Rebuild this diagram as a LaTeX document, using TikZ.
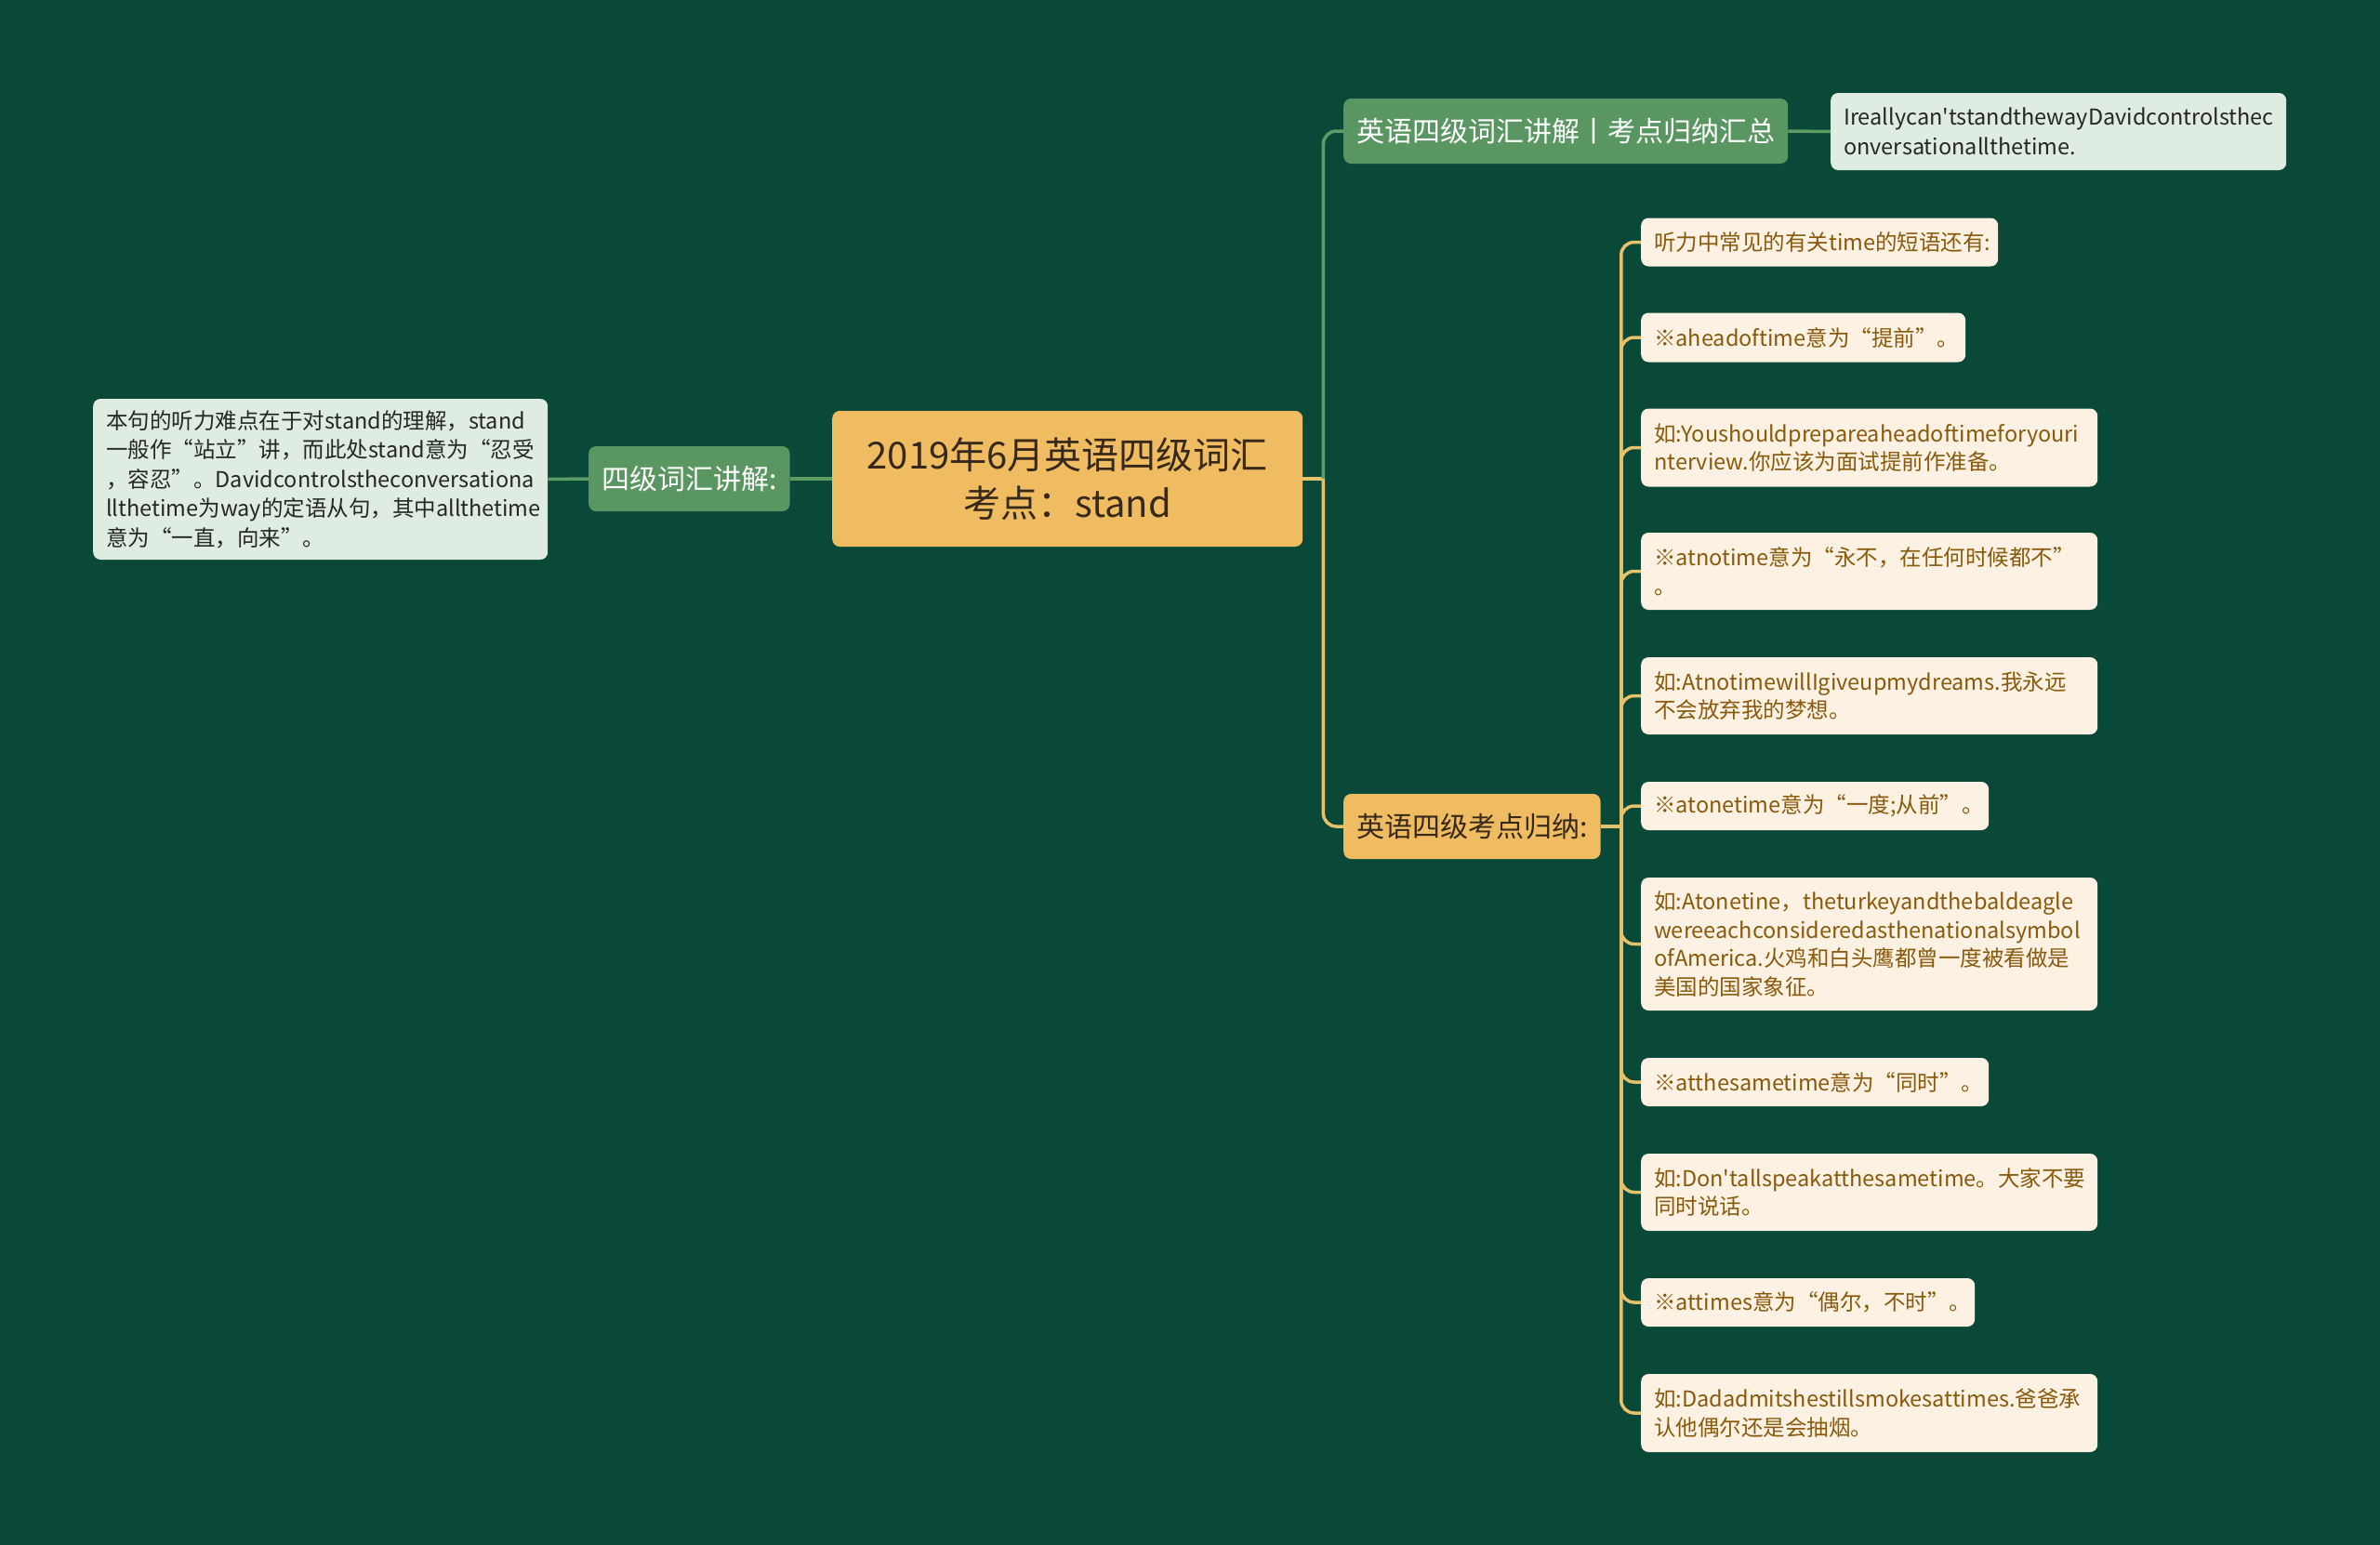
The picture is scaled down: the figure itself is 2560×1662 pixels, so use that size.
\documentclass[tikz,border=0pt]{standalone}
\usepackage{fontspec}
\setmainfont{Noto Sans CJK SC}[Ligatures=TeXOff]
\usetikzlibrary{positioning}

\definecolor{bgdark}{HTML}{0A4837}
\definecolor{rootfill}{HTML}{F0BC62}
\definecolor{rootink}{HTML}{36281A}
\definecolor{leaffill}{HTML}{5A9661}
\definecolor{notefill}{HTML}{DEECE1}
\definecolor{noteink}{HTML}{262626}
\definecolor{creamfill}{HTML}{FCF1E2}
\definecolor{creamink}{HTML}{8A5A0C}
\definecolor{greenline}{HTML}{5E9C66}
\definecolor{goldline}{HTML}{E6C36A}

\begin{document}
\begin{tikzpicture}[x=1pt,y=-1pt,
    box/.style={rounded corners=8pt, inner xsep=14pt, inner ysep=0pt, anchor=west},
    topic/.style={box, fill=rootfill, text=rootink, minimum height=70pt,
        font=\fontsize{30}{36}\selectfont},
    subtopic/.style={box, fill=leaffill, text=white, minimum height=70pt,
        font=\fontsize{30}{36}\selectfont},
    note/.style={box, fill=notefill, text=noteink, align=left,
        font=\fontsize{23.5}{31.5}\selectfont},
    tip/.style={box, fill=creamfill, text=creamink, align=left,
        font=\fontsize{23.5}{30.5}\selectfont},
    greenlink/.style={draw=greenline, line width=3.5pt},
    goldlink/.style={draw=goldline, line width=3.5pt}]

    \useasboundingbox (0,0) rectangle (2560,1662);
    \fill[bgdark] (0,0) rectangle (2560,1662);

    % centre and left side
    \node[topic, minimum width=506pt, minimum height=146pt, align=center,
        font=\fontsize{40}{52}\selectfont] (root) at (895,515)
        {2019年6月英语四级词汇\\考点：stand};
    \node[subtopic] (explain) at (633,515) {四级词汇讲解:};
    \node[note, text width=461pt, minimum height=173pt] (explainnote) at (100,515.5)
        {本句的听力难点在于对stand的理解，stand\\一般作“站立”讲，而此处stand意为“忍受\\，容忍”。Davidcontrolstheconversationa\\llthetime为way的定语从句，其中allthetime\\意为“一直，向来”。};

    % right side
    \node[subtopic] (summary) at (1445,141) {英语四级词汇讲解丨考点归纳汇总};
    \node[note, text width=462pt, minimum height=83pt] (summarynote) at (1969,141.5)
        {Ireallycan'tstandthewayDavidcontrolsthec\\onversationallthetime.};
    \node[topic] (points) at (1445,889) {英语四级考点归纳:};

    \node[tip, text width=356pt, minimum height=52pt] (tip1) at (1765,260.5) {听力中常见的有关time的短语还有:};
    \node[tip, text width=321pt, minimum height=53pt] (tip2) at (1765,363) {※aheadoftime意为“提前”。};
    \node[tip, text width=463pt, minimum height=84pt] (tip3) at (1765,481.5) {如:Youshouldprepareaheadoftimeforyouri\\nterview.你应该为面试提前作准备。};
    \node[tip, text width=463pt, minimum height=83pt] (tip4) at (1765,614.5) {※atnotime意为“永不，在任何时候都不”\\。};
    \node[tip, text width=463pt, minimum height=83pt] (tip5) at (1765,748.5) {如:AtnotimewillIgiveupmydreams.我永远\\不会放弃我的梦想。};
    \node[tip, text width=346pt, minimum height=52pt] (tip6) at (1765,867) {※atonetime意为“一度;从前”。};
    \node[tip, text width=463pt, minimum height=143pt] (tip7) at (1765,1015.5) {如:Atonetine，theturkeyandthebaldeagle\\wereeachconsideredasthenationalsymbol\\ofAmerica.火鸡和白头鹰都曾一度被看做是\\美国的国家象征。};
    \node[tip, text width=346pt, minimum height=52pt] (tip8) at (1765,1164) {※atthesametime意为“同时”。};
    \node[tip, text width=463pt, minimum height=83pt] (tip9) at (1765,1282.5) {如:Don'tallspeakatthesametime。大家不要\\同时说话。};
    \node[tip, text width=331pt, minimum height=52pt] (tip10) at (1765,1401) {※attimes意为“偶尔，不时”。};
    \node[tip, text width=463pt, minimum height=84pt] (tip11) at (1765,1520) {如:Dadadmitshestillsmokesattimes.爸爸承\\认他偶尔还是会抽烟。};

    % connectors
    \draw[greenlink] (root.west) -- (explain.east);
    \draw[greenlink] (explain.west) -- (explainnote.east);
    \coordinate (rootfork) at ([xshift=22pt]root.east);
    \draw[goldlink] (root.east) -- (rootfork);
    \draw[greenlink, rounded corners=14pt] (rootfork) |- (summary.west);
    \draw[goldlink, rounded corners=14pt] (rootfork) |- (points.west);
    \draw[greenlink] (summary.east) -- (summarynote.west);
    \coordinate (tipfork) at ([xshift=22pt]points.east);
    \draw[goldlink] (points.east) -- (tipfork);
    \foreach \i in {1,...,11}
        \draw[goldlink, rounded corners=14pt] (tipfork) |- (tip\i.west);
\end{tikzpicture}
\end{document}
